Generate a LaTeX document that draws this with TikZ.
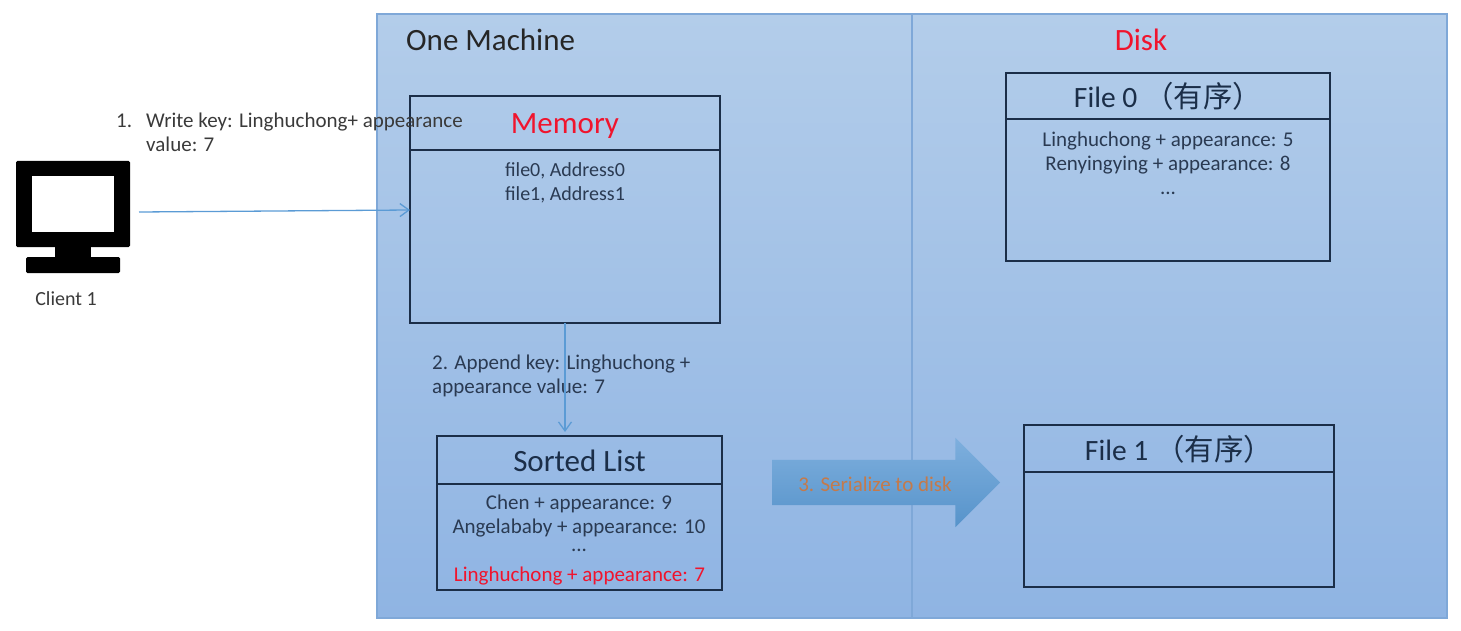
\documentclass[tikz,border=0pt]{standalone}
\usepackage{fontspec}
\setmainfont{Carlito}
\newfontfamily\cjk{Noto Sans CJK SC}
\usepackage{xcolor}
\usetikzlibrary{positioning, shapes.arrows, arrows.meta}
\definecolor{panelTop}{HTML}{B3CDEA}
\definecolor{panelBot}{HTML}{8FB4E3}
\definecolor{panelLine}{HTML}{7FA8D8}
\definecolor{boxLine}{HTML}{1B2E48}
\definecolor{inkBody}{HTML}{2A3A52}
\definecolor{inkPlain}{HTML}{3A3A3A}
\definecolor{flowLine}{HTML}{5B9BD5}
\definecolor{hotRed}{HTML}{F0142D}
\definecolor{rustText}{HTML}{C47A4A}
\newcommand{\smallbody}{\fontsize{20}{23.5}\selectfont}
\newcommand{\bodyfont}{\fontsize{21}{24}\selectfont}
\newcommand{\headfont}{\fontsize{31}{36}\selectfont}
\newcommand{\filefont}{\fontsize{29.5}{36}\selectfont}
\tikzset{
  panel/.style={draw=panelLine, line width=1.3pt, top color=panelTop, bottom color=panelBot, anchor=north west, inner sep=0pt, outer sep=0pt},
  boxhead/.style={draw=boxLine, line width=1.6pt, anchor=north west, inner sep=0pt, outer sep=0pt, text=boxLine, font=\headfont, text height=24pt, text depth=0pt},
  boxbody/.style={draw=boxLine, line width=1.6pt, anchor=north west, inner sep=0pt, outer sep=0pt},
  bodytext/.style={align=center, anchor=north, inner sep=0pt, text=inkBody, font=\bodyfont},
  plaintext/.style={align=left, inner sep=0pt, text=inkPlain, font=\bodyfont},
  flow/.style={draw=flowLine, line width=1.3pt, -{Straight Barb[length=9pt,width=13pt]}},
  solid black/.style={fill=black, inner sep=0pt, rounded corners=1.5pt}
}
\begin{document}
\begin{tikzpicture}[x=1pt, y=-1pt]
\useasboundingbox (0,0) rectangle (1461,631);
\node [panel, minimum width=535pt, minimum height=604pt] (machine) at (377,14) {};
\node [panel, minimum width=535pt, minimum height=604pt] (disk) at (912,14) {};
\node [anchor=west, inner sep=0pt, text=black!85, font=\headfont] (machinetitle) at (406,40) {One Machine};
\node [inner sep=0pt, text=hotRed, font=\headfont] (disktitle) at (1141,40) {Disk};
\node [boxhead, minimum width=310pt, minimum height=54pt, text=hotRed, text height=21pt] (memhead) at (410,96) {Memory};
\node [boxbody, minimum width=310pt, minimum height=173pt] (membody) at (410,150) {};
\node [bodytext, font=\smallbody] (memtext) at (565,162.5) {file0, Address0\\ file1, Address1};
\node [boxhead, minimum width=285pt, minimum height=48pt, text height=23pt] (sorthead) at (437,436) {Sorted List};
\node [boxbody, minimum width=285pt, minimum height=106pt] (sortbody) at (437,484) {};
\node [bodytext] (sorttext) at (579,495) {Chen + appearance: 9\\ Angelababy + appearance: 10};
\node [inner sep=0pt, text=inkBody, font=\bodyfont] (sortdots) at (579,550.5) {...};
\node [bodytext, text=hotRed] (sortnew) at (579.5,567) {Linghuchong + appearance: 7};
\node [boxhead, minimum width=324pt, minimum height=46pt, font=\filefont] (file0head) at (1006,73) {File 0 {\cjk （有序）}};
\node [boxbody, minimum width=324pt, minimum height=142pt] (file0body) at (1006,119) {};
\node [bodytext] (file0text) at (1168,132) {Linghuchong + appearance: 5\\ Renyingying + appearance: 8\\ ...};
\node [boxhead, minimum width=310pt, minimum height=47pt, font=\filefont] (file1head) at (1024,425) {File 1 {\cjk （有序）}};
\node [boxbody, minimum width=310pt, minimum height=115pt] (file1body) at (1024,472) {};
\node [single arrow, single arrow tip angle=90, single arrow head extend=22pt, single arrow head indent=0pt, minimum height=228pt, inner sep=0pt, outer sep=0pt, top color=flowLine!60!panelTop, bottom color=flowLine!95!black, anchor=west] (serialize) at (772,482.5) {\rule{0pt}{45pt}};
\node [inner sep=0pt, text=rustText, font=\bodyfont] (serializetext) at (875,484) {3. Serialize to disk};
\node [solid black, minimum width=114pt, minimum height=86pt, outer xsep=9pt] (monitor) at (73,204) {};
\node [fill=white, inner sep=0pt, minimum width=82pt, minimum height=55pt] (screen) at (monitor) {};
\node [fill=black, inner sep=0pt, minimum width=36pt, minimum height=12pt] (stem) at (73,252) {};
\node [solid black, minimum width=94pt, minimum height=16pt] (base) at (73,265) {};
\node [plaintext, font=\smallbody] (client) at (66,299) {Client 1};
\node [plaintext, anchor=north west] (writestep) at (116,112.5) {\makebox[30pt][l]{1.}Write key: Linghuchong+ appearance\\ \hspace*{30pt}value: 7};
\node [plaintext, anchor=north west, text=inkBody] (appendstep) at (432,354.5) {2. Append key: Linghuchong +\\ appearance value: 7};
\draw [flow] ([yshift=-8pt]monitor.east) -- ([yshift=26.5pt]membody.west);
\draw [flow, shorten >=4pt] (membody.south) -- ([xshift=-14.5pt]sorthead.north);
\end{tikzpicture}
\end{document}
